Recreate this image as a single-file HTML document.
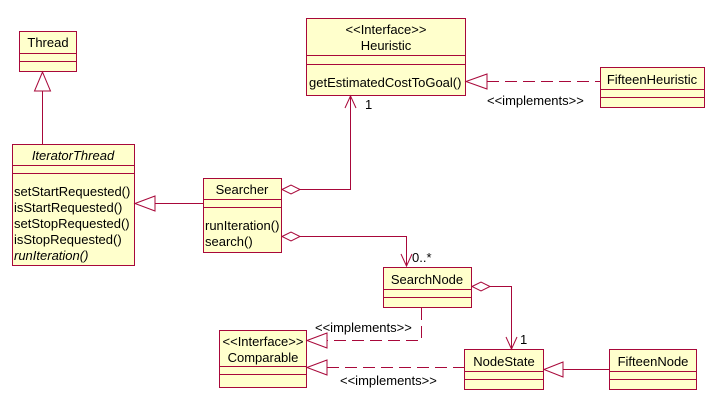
<!DOCTYPE html>
<html><head><meta charset="utf-8"><style>
html,body{margin:0;padding:0;background:#fff;}
svg{display:block;}
text{font-family:"Liberation Sans",sans-serif;font-size:13px;fill:#000;}
</style></head><body>
<svg width="713" height="406" viewBox="0 0 713 406" xmlns="http://www.w3.org/2000/svg">
<g fill="#ffffcc" stroke="#a8083a" stroke-width="1">
<rect x="19.5" y="31.5" width="57" height="40"/>
<line x1="19.5" y1="53.5" x2="76.5" y2="53.5"/><line x1="19.5" y1="61.5" x2="76.5" y2="61.5"/>
<rect x="12.5" y="144.5" width="122" height="121"/>
<line x1="12.5" y1="165.5" x2="134.5" y2="165.5"/><line x1="12.5" y1="173.5" x2="134.5" y2="173.5"/>
<rect x="203.5" y="178.5" width="78" height="74"/>
<line x1="203.5" y1="199.5" x2="281.5" y2="199.5"/><line x1="203.5" y1="207.5" x2="281.5" y2="207.5"/>
<rect x="306.5" y="18.5" width="159" height="77"/>
<line x1="306.5" y1="55.5" x2="465.5" y2="55.5"/><line x1="306.5" y1="64.5" x2="465.5" y2="64.5"/>
<rect x="600.5" y="67.5" width="104" height="40"/>
<line x1="600.5" y1="89.5" x2="704.5" y2="89.5"/><line x1="600.5" y1="97.5" x2="704.5" y2="97.5"/>
<rect x="383.5" y="267.5" width="88" height="40"/>
<line x1="383.5" y1="289.5" x2="471.5" y2="289.5"/><line x1="383.5" y1="297.5" x2="471.5" y2="297.5"/>
<rect x="219.5" y="330.5" width="87" height="57"/>
<line x1="219.5" y1="366.5" x2="306.5" y2="366.5"/><line x1="219.5" y1="374.5" x2="306.5" y2="374.5"/>
<rect x="464.5" y="349.5" width="79" height="40"/>
<line x1="464.5" y1="371.5" x2="543.5" y2="371.5"/><line x1="464.5" y1="379.5" x2="543.5" y2="379.5"/>
<rect x="609.5" y="349.5" width="87" height="40"/>
<line x1="609.5" y1="371.5" x2="696.5" y2="371.5"/><line x1="609.5" y1="379.5" x2="696.5" y2="379.5"/>
</g>
<g fill="none" stroke="#a8083a" stroke-width="1">
<line x1="42.5" y1="91" x2="42.5" y2="144"/>
<polygon points="42.5,72 34.5,91 50.5,91" fill="#fff"/>
<line x1="155" y1="203.5" x2="203" y2="203.5"/>
<polygon points="135,203.5 155,196 155,211" fill="#fff"/>
<polygon points="282,189.5 291,185 300,189.5 291,194" fill="#fff"/>
<polyline points="300,189.5 350.5,189.5 350.5,96"/>
<polyline points="345,108 350.5,96 356,108"/>
<line x1="487" y1="81.5" x2="600" y2="81.5" stroke-dasharray="12,6"/>
<polygon points="466,81.5 487,74 487,89" fill="#fff"/>
<polygon points="282,236.5 291,232 300,236.5 291,241" fill="#fff"/>
<polyline points="300,236.5 406.5,236.5 406.5,266"/>
<polyline points="401,254 406.5,266 412,254"/>
<polygon points="472,286.5 481,282 490,286.5 481,291" fill="#fff"/>
<polyline points="490,286.5 511.5,286.5 511.5,349"/>
<polyline points="506,337 511.5,349 517,337"/>
<polyline points="421.5,308 421.5,340.5 327,340.5" stroke-dasharray="12,6"/>
<polygon points="307,340.5 327,333 327,348" fill="#fff"/>
<line x1="327" y1="367.5" x2="464" y2="367.5" stroke-dasharray="12,6"/>
<polygon points="307,367.5 327,360 327,375" fill="#fff"/>
<line x1="563" y1="369.5" x2="609" y2="369.5"/>
<polygon points="544,369.5 563,362 563,377" fill="#fff"/>
</g>
<g>
<text x="48" y="47" text-anchor="middle">Thread</text>
<text x="73" y="160" text-anchor="middle" font-style="italic">IteratorThread</text>
<text x="14" y="196">setStartRequested()</text>
<text x="14" y="212">isStartRequested()</text>
<text x="14" y="228">setStopRequested()</text>
<text x="14" y="244">isStopRequested()</text>
<text x="14" y="260" font-style="italic">runIteration()</text>
<text x="242" y="194" text-anchor="middle">Searcher</text>
<text x="205" y="230">runIteration()</text>
<text x="205" y="246">search()</text>
<text x="386" y="34" text-anchor="middle">&lt;&lt;Interface&gt;&gt;</text>
<text x="386" y="50" text-anchor="middle">Heuristic</text>
<text x="309" y="87">getEstimatedCostToGoal()</text>
<text x="365" y="109">1</text>
<text x="652" y="84" text-anchor="middle">FifteenHeuristic</text>
<text x="487" y="105">&lt;&lt;implements&gt;&gt;</text>
<text x="412" y="262">0..*</text>
<text x="427" y="284" text-anchor="middle">SearchNode</text>
<text x="520" y="344">1</text>
<text x="315" y="332">&lt;&lt;implements&gt;&gt;</text>
<text x="263" y="346" text-anchor="middle">&lt;&lt;Interface&gt;&gt;</text>
<text x="263" y="362" text-anchor="middle">Comparable</text>
<text x="504" y="366" text-anchor="middle">NodeState</text>
<text x="653" y="366" text-anchor="middle">FifteenNode</text>
<text x="340" y="385">&lt;&lt;implements&gt;&gt;</text>
</g>
</svg>
</body></html>
